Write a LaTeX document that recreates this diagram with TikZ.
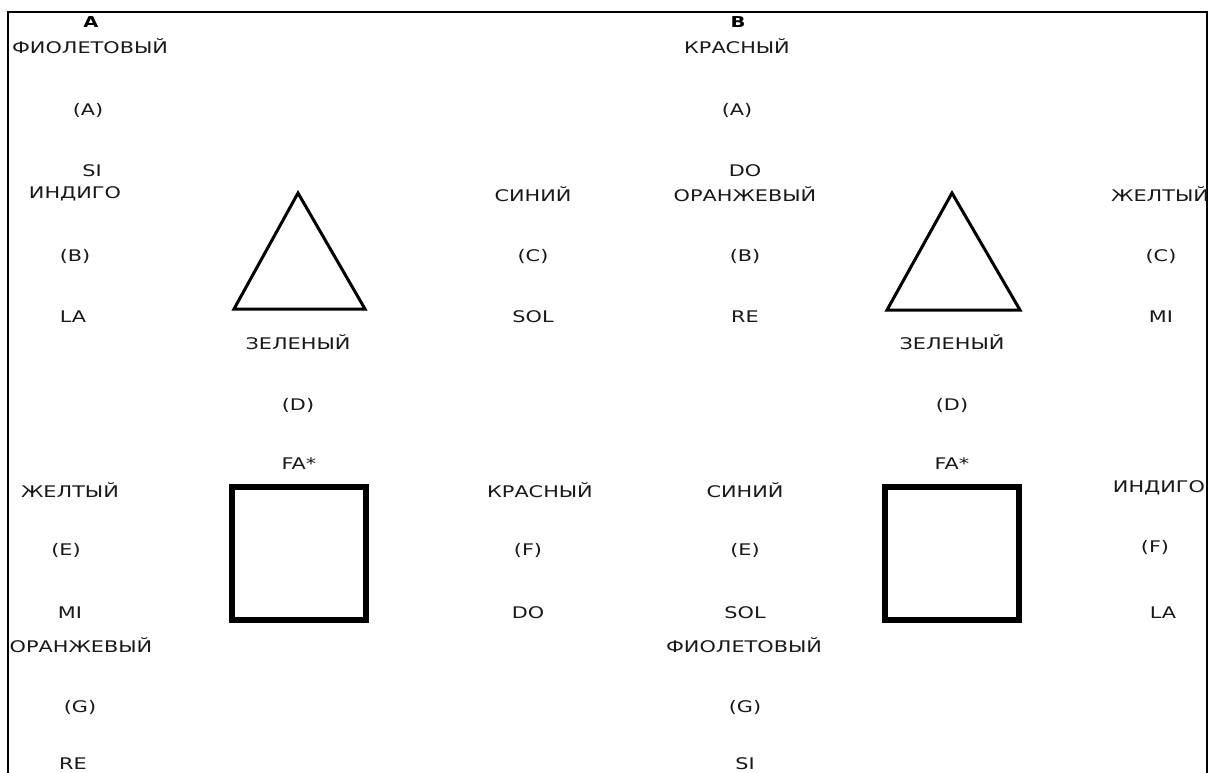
\documentclass[tikz,border=0pt]{standalone}
\usepackage{fontspec}
\usepackage{graphicx}
\setmainfont{DejaVu Sans}
\newcommand\widetxt[1]{\scalebox{1.3}[1]{#1}}
\begin{document}
\begin{tikzpicture}[x=1pt,y=-1pt,
  lbl/.style={font=\fontsize{16}{18}\selectfont, text=black!90, inner sep=0pt, anchor=center},
  ttl/.style={font=\bfseries\fontsize{15}{17}\selectfont, inner sep=0pt},
  frame/.style={line width=2pt},
  tri/.style={line width=3pt, line join=miter},
  sq/.style={line width=6pt}]
\useasboundingbox (0,0) rectangle (1211,773);
\fill[white] (0,0) rectangle (1211,773);
% frame
\coordinate (fl) at (8,773);
\coordinate (ftl) at (8,12);
\coordinate (ftr) at (1207,12);
\coordinate (fr) at (1207,773);
\draw[frame] (fl) -- (ftl) -- (ftr) -- (fr);
% Panel A
\node[ttl] (tA) at (91,22) {\widetxt{A}};
\node[lbl] (a1) at (90,46) {\widetxt{ФИОЛЕТОВЫЙ}};
\node[lbl] (a2) at (88,110) {\widetxt{(A)}};
\node[lbl] (a3) at (92,171) {\widetxt{SI}};
\node[lbl] (a4) at (75,194) {\widetxt{ИНДИГО}};
\node[lbl] (a5) at (75,256) {\widetxt{(B)}};
\node[lbl] (a6) at (73,317) {\widetxt{LA}};
\node[lbl] (a7) at (70,490) {\widetxt{ЖЕЛТЫЙ}};
\node[lbl] (a8) at (66,550) {\widetxt{(E)}};
\node[lbl] (a9) at (70,613) {\widetxt{MI}};
\node[lbl] (a10) at (81,645) {\widetxt{ОРАНЖЕВЫЙ}};
\node[lbl] (a11) at (80,707) {\widetxt{(G)}};
\node[lbl] (a12) at (73,764) {\widetxt{RE}};
\coordinate (atA) at (298,193);
\coordinate (atB) at (234,309);
\coordinate (atC) at (365,309);
\draw[tri] (atA) -- (atB) -- (atC) -- cycle;
\node[lbl] (a13) at (298,342) {\widetxt{ЗЕЛЕНЫЙ}};
\node[lbl] (a14) at (298,405) {\widetxt{(D)}};
\node[lbl] (a15) at (299,464) {\widetxt{FA*}};
\coordinate (asq1) at (232,487);
\coordinate (asq2) at (366,620);
\draw[sq] (asq1) rectangle (asq2);
\node[lbl] (a16) at (533,194) {\widetxt{СИНИЙ}};
\node[lbl] (a17) at (533,256) {\widetxt{(C)}};
\node[lbl] (a18) at (533,317) {\widetxt{SOL}};
\node[lbl] (a19) at (540,490) {\widetxt{КРАСНЫЙ}};
\node[lbl] (a20) at (528,550) {\widetxt{(F)}};
\node[lbl] (a21) at (528,613) {\widetxt{DO}};
% Panel B
\node[ttl] (tB) at (738,22) {\widetxt{B}};
\node[lbl] (b1) at (737,46) {\widetxt{КРАСНЫЙ}};
\node[lbl] (b2) at (737,110) {\widetxt{(A)}};
\node[lbl] (b3) at (745,171) {\widetxt{DO}};
\node[lbl] (b4) at (745,194) {\widetxt{ОРАНЖЕВЫЙ}};
\node[lbl] (b5) at (745,256) {\widetxt{(B)}};
\node[lbl] (b6) at (745,317) {\widetxt{RE}};
\coordinate (btA) at (952,193);
\coordinate (btB) at (887,310);
\coordinate (btC) at (1020,310);
\draw[tri] (btA) -- (btB) -- (btC) -- cycle;
\node[lbl] (b13) at (952,342) {\widetxt{ЗЕЛЕНЫЙ}};
\node[lbl] (b14) at (952,405) {\widetxt{(D)}};
\node[lbl] (b15) at (952,464) {\widetxt{FA*}};
\coordinate (bsq1) at (885,487);
\coordinate (bsq2) at (1019,620);
\draw[sq] (bsq1) rectangle (bsq2);
\node[lbl] (b7) at (745,490) {\widetxt{СИНИЙ}};
\node[lbl] (b8) at (745,550) {\widetxt{(E)}};
\node[lbl] (b9) at (745,613) {\widetxt{SOL}};
\node[lbl] (b10) at (744,645) {\widetxt{ФИОЛЕТОВЫЙ}};
\node[lbl] (b11) at (745,707) {\widetxt{(G)}};
\node[lbl] (b12) at (745,764) {\widetxt{SI}};
\node[lbl] (b16) at (1160,194) {\widetxt{ЖЕЛТЫЙ}};
\node[lbl] (b17) at (1161,256) {\widetxt{(C)}};
\node[lbl] (b18) at (1161,317) {\widetxt{MI}};
\node[lbl] (b19) at (1159,488) {\widetxt{ИНДИГО}};
\node[lbl] (b20) at (1155,547) {\widetxt{(F)}};
\node[lbl] (b21) at (1163,613) {\widetxt{LA}};
\end{tikzpicture}
\end{document}
